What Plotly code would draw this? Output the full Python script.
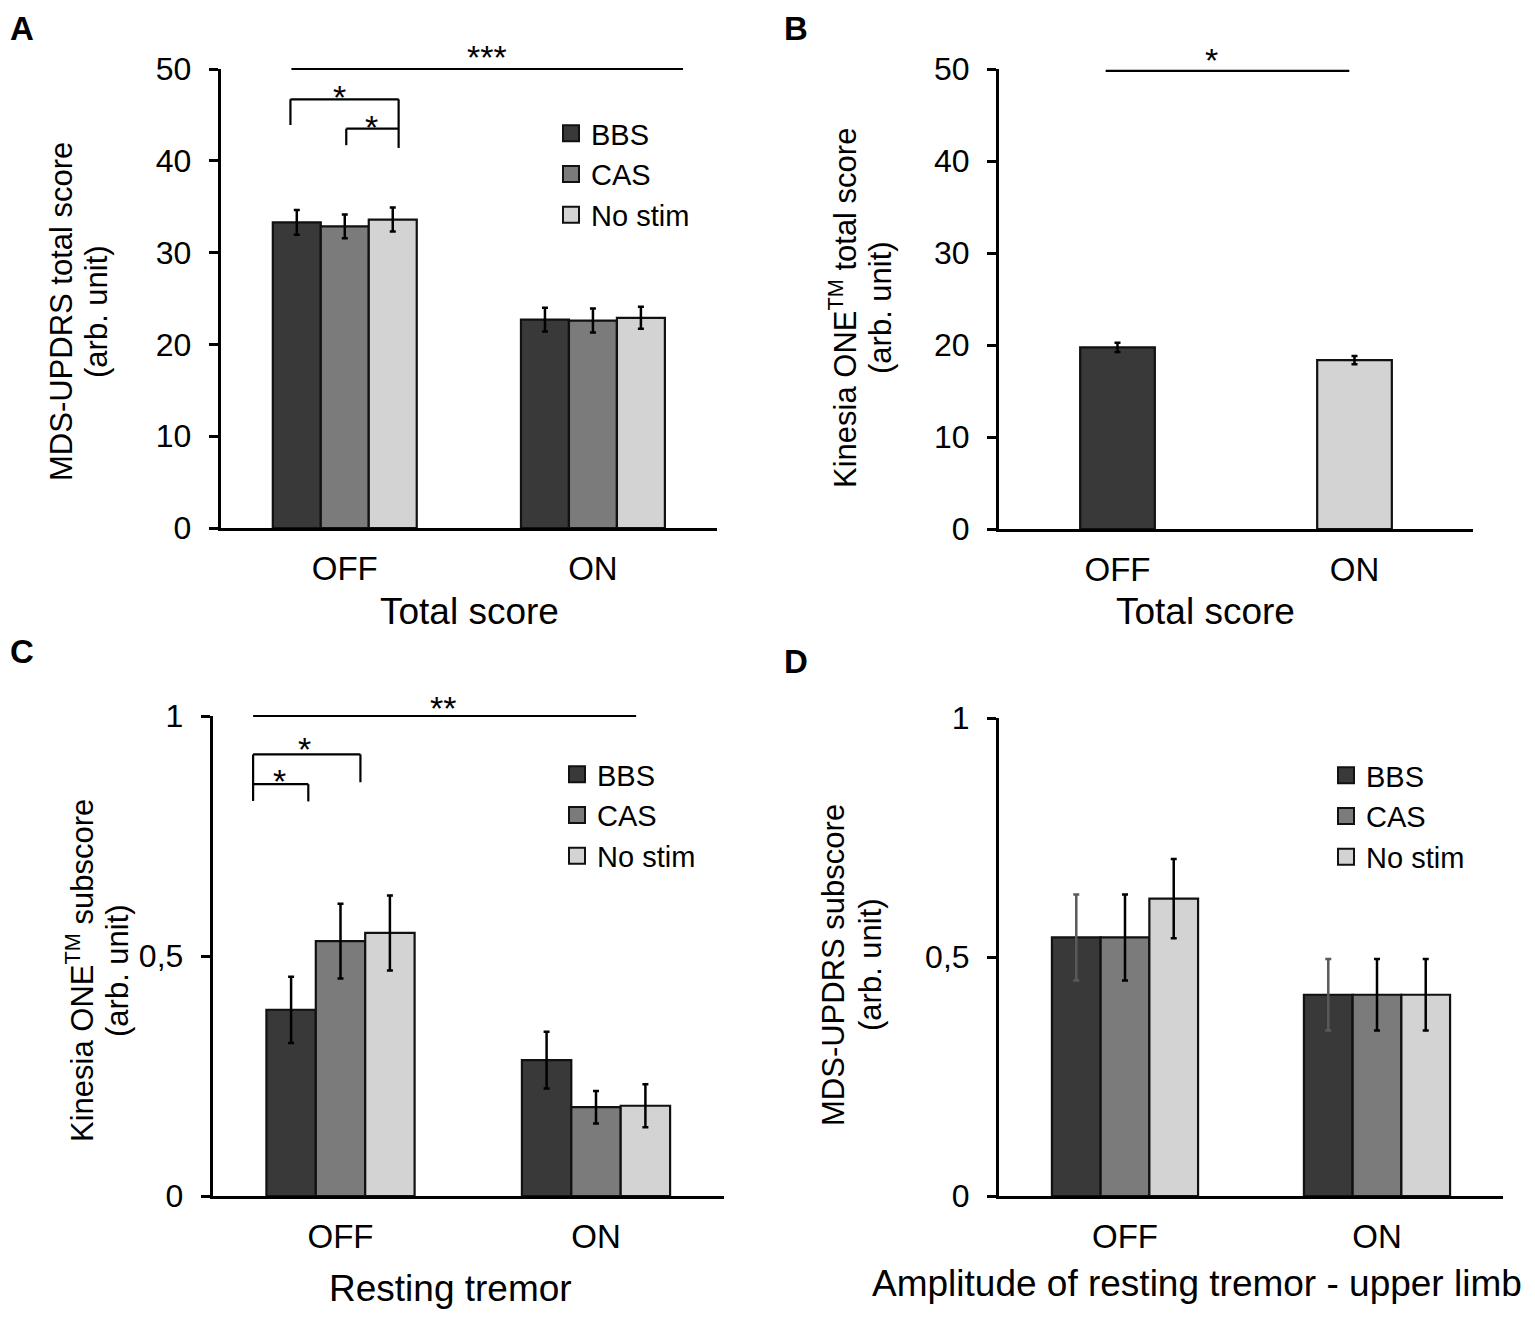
import plotly.graph_objects as go

W, H = 1535, 1319
PAGE = 8  # default body margin of the html page that holds the figure
FONT = "Liberation Sans, Arial, sans-serif"

# ---- data ----
groups = ["OFF", "ON"]
conditions = ["BBS", "CAS", "No stim"]

# A: MDS-UPDRS total score
a_bbs = [33.3, 22.7]
a_bbs_err = [1.35, 1.3]
a_cas = [32.85, 22.6]
a_cas_err = [1.3, 1.3]
a_nostim = [33.6, 22.9]
a_nostim_err = [1.3, 1.2]

# B: Kinesia ONE total score (OFF = BBS colour, ON = no stim colour)
b_vals = [19.75, 18.35]
b_err = [0.5, 0.45]

# C: Kinesia ONE resting tremor subscore
c_bbs = [0.388, 0.283]
c_bbs_err = [0.069, 0.059]
c_cas = [0.531, 0.185]
c_cas_err = [0.078, 0.034]
c_nostim = [0.548, 0.188]
c_nostim_err = [0.078, 0.045]

# D: MDS-UPDRS resting tremor amplitude, upper limb
d_bbs = [0.541, 0.421]
d_bbs_err = [0.09, 0.075]
d_cas = [0.541, 0.421]
d_cas_err = [0.09, 0.075]
d_nostim = [0.622, 0.421]
d_nostim_err = [0.083, 0.075]

colors = {"BBS": "#393939", "CAS": "#7b7b7b", "No stim": "#d3d3d3"}

# panel geometry in pixels of the picture: x (left, right), y (bottom, top)
panels = {
    "A": dict(x=(220.7, 717), y=(528, 69), xr=(-0.5, 1.5), yr=(0, 50)),
    "B": dict(x=(999, 1473), y=(529, 69), xr=(-0.5, 1.5), yr=(0, 50)),
    "C": dict(x=(212.75, 723.75), y=(1196, 716), xr=(-0.5, 1.5), yr=(0, 1)),
    "D": dict(x=(999, 1503), y=(1196, 718), xr=(-0.5, 1.5), yr=(0, 1)),
}


def pxx(p):
    return (p - PAGE) / W


def pxy(p):
    return 1 - (p - PAGE) / H


def dom(p):
    g = panels[p]
    return [pxx(g["x"][0]), pxx(g["x"][1])], [pxy(g["y"][0]), pxy(g["y"][1])]


def to_paper(p, xv, yv):
    g = panels[p]
    fx = (xv - g["xr"][0]) / (g["xr"][1] - g["xr"][0])
    fy = (yv - g["yr"][0]) / (g["yr"][1] - g["yr"][0])
    px = g["x"][0] + fx * (g["x"][1] - g["x"][0])
    py = g["y"][0] + fy * (g["y"][1] - g["y"][0])
    return pxx(px), pxy(py)


fig = go.Figure()


def add_group(series, axis, legend, err_colors=None):
    xa, ya = axis
    for i, (name, vals, errs) in enumerate(series):
        ec = err_colors[i] if err_colors else "#000000"
        fig.add_trace(go.Bar(
            x=groups, y=vals, name=name,
            marker=dict(color=colors[name], line=dict(color="#111111", width=2.2)),
            error_y=dict(type="data", array=errs, color=ec, thickness=2.5, width=3),
            xaxis=xa, yaxis=ya, showlegend=False, hoverinfo="y",
        ))
        # legend entry with a larger square swatch than the bar default
        fig.add_trace(go.Scatter(
            x=[None], y=[None], mode="markers", name=name,
            marker=dict(symbol="square", size=16, color=colors[name],
                        line=dict(color="#111111", width=2)),
            xaxis=xa, yaxis=ya, legend=legend, showlegend=True,
        ))


add_group([("BBS", a_bbs, a_bbs_err), ("CAS", a_cas, a_cas_err),
           ("No stim", a_nostim, a_nostim_err)], ("x", "y"), "legend")

fig.add_trace(go.Bar(
    x=groups, y=b_vals, width=0.315,
    marker=dict(color=[colors["BBS"], colors["No stim"]], line=dict(color="#111111", width=2.2)),
    error_y=dict(type="data", array=b_err, color="#000000", thickness=2.5, width=3),
    xaxis="x2", yaxis="y2", showlegend=False,
))

add_group([("BBS", c_bbs, c_bbs_err), ("CAS", c_cas, c_cas_err),
           ("No stim", c_nostim, c_nostim_err)], ("x3", "y3"), "legend2")

add_group([("BBS", d_bbs, d_bbs_err), ("CAS", d_cas, d_cas_err),
           ("No stim", d_nostim, d_nostim_err)], ("x4", "y4"), "legend3",
          err_colors=["#5a5a5a", "#000000", "#000000"])

# ---- axes ----
axis_common = dict(showline=True, linecolor="#000000", linewidth=3, showgrid=False,
                   zeroline=False, mirror=False, automargin=False)
layout_axes = {}
for i, (p, ticks, ticktext) in enumerate([
        ("A", [0, 10, 20, 30, 40, 50], None),
        ("B", [0, 10, 20, 30, 40, 50], None),
        ("C", [0, 0.5, 1], ["0", "0,5", "1"]),
        ("D", [0, 0.5, 1], ["0", "0,5", "1"])]):
    sfx = "" if i == 0 else str(i + 1)
    xd, yd = dom(p)
    layout_axes["xaxis" + sfx] = dict(
        axis_common, domain=xd, anchor="y" + sfx, range=list(panels[p]["xr"]),
        ticks="", tickfont=dict(size=33, color="#000000"), ticklabelstandoff=9,
        type="category")
    layout_axes["yaxis" + sfx] = dict(
        axis_common, domain=yd, anchor="x" + sfx, range=list(panels[p]["yr"]),
        tickvals=ticks, ticktext=ticktext, ticks="outside", ticklen=9, tickwidth=3,
        tickcolor="#000000", tickfont=dict(size=32, color="#000000"),
        ticklabelstandoff=11)

# ---- significance markers ----
shapes = []
annotations = []


def seg(p, x0, y0, x1, y1):
    a = to_paper(p, x0, y0)
    b = to_paper(p, x1, y1)
    shapes.append(dict(type="line", xref="paper", yref="paper",
                       x0=a[0], y0=a[1], x1=b[0], y1=b[1],
                       line=dict(color="#000000", width=2.2)))


def star(p, xv, yv, txt):
    x, y = to_paper(p, xv, yv)
    annotations.append(dict(xref="paper", yref="paper", x=x, y=y, text=txt,
                            showarrow=False, xanchor="center", yanchor="middle",
                            yshift=-8, font=dict(size=34, color="#000000", family=FONT)))


# A
seg("A", -0.215, 50, 1.363, 50)
star("A", 0.574, 52.2, "***")
seg("A", -0.219, 43.9, -0.219, 46.7)
seg("A", -0.219, 46.7, 0.217, 46.7)
seg("A", 0.217, 46.7, 0.217, 41.4)
star("A", -0.02, 47.8, "*")
seg("A", 0.006, 41.7, 0.006, 43.5)
seg("A", 0.006, 43.5, 0.217, 43.5)
star("A", 0.106, 44.6, "*")

# B
seg("B", -0.05, 49.8, 0.978, 49.8)
star("B", 0.395, 51.8, "*")

# C
seg("C", -0.342, 1.0, 1.157, 1.0)
star("C", 0.403, 1.033, "**")
seg("C", -0.342, 0.823, -0.342, 0.92)
seg("C", -0.342, 0.92, 0.078, 0.92)
seg("C", 0.078, 0.92, 0.078, 0.862)
star("C", -0.139, 0.947, "*")
seg("C", -0.342, 0.858, -0.126, 0.858)
seg("C", -0.126, 0.858, -0.126, 0.822)
star("C", -0.237, 0.882, "*")


# ---- text: panel letters, axis titles ----
def text(xp, yp, txt, size, angle=0, bold=False, top=False):
    annotations.append(dict(
        xref="paper", yref="paper", x=pxx(xp), y=1 if top else pxy(yp), text=txt,
        showarrow=False, xanchor="center", yanchor="top" if top else "middle",
        textangle=angle,
        font=dict(size=size, color="#000000", family=FONT, weight="bold" if bold else "normal")))


text(22, 25, "A", 33, bold=True, top=True)
text(796, 23, "B", 33, bold=True, top=True)
text(22, 651, "C", 33, bold=True)
text(796, 661, "D", 33, bold=True)

text(62, 312, "MDS-UPDRS total score", 31, angle=-90)
text(97, 312, "(arb. unit)", 31, angle=-90)
text(843, 308, "Kinesia ONE<sup>TM</sup> total score", 31, angle=-90)
text(880, 308, "(arb. unit)", 31, angle=-90)
text(80, 971, "Kinesia ONE<sup>TM</sup> subscore", 31, angle=-90)
text(117, 971, "(arb. unit)", 31, angle=-90)
text(833, 965, "MDS-UPDRS subscore", 31, angle=-90)
text(870, 965, "(arb. unit)", 31, angle=-90)

text(469, 611, "Total score", 37)
text(1205, 611, "Total score", 37)
text(450, 1288, "Resting tremor", 37)
text(1197, 1283, "Amplitude of resting tremor - upper limb", 37)

legend_common = dict(font=dict(size=29, color="#000000", family=FONT),
                     bgcolor="rgba(0,0,0,0)", xanchor="left", yanchor="top",
                     tracegroupgap=0, itemclick=False, itemwidth=30)

fig.update_layout(
    width=W, height=H,
    margin=dict(l=0, r=0, t=0, b=0),
    paper_bgcolor="#ffffff", plot_bgcolor="#ffffff",
    font=dict(family=FONT, color="#000000"),
    barmode="group", bargap=0.42, bargroupgap=0,
    legend=dict(legend_common, x=pxx(551), y=pxy(108)),
    legend2=dict(legend_common, x=pxx(557), y=pxy(749)),
    legend3=dict(legend_common, x=pxx(1326), y=pxy(750)),
    shapes=shapes, annotations=annotations,
    **layout_axes,
)

fig.write_html("out.html")
